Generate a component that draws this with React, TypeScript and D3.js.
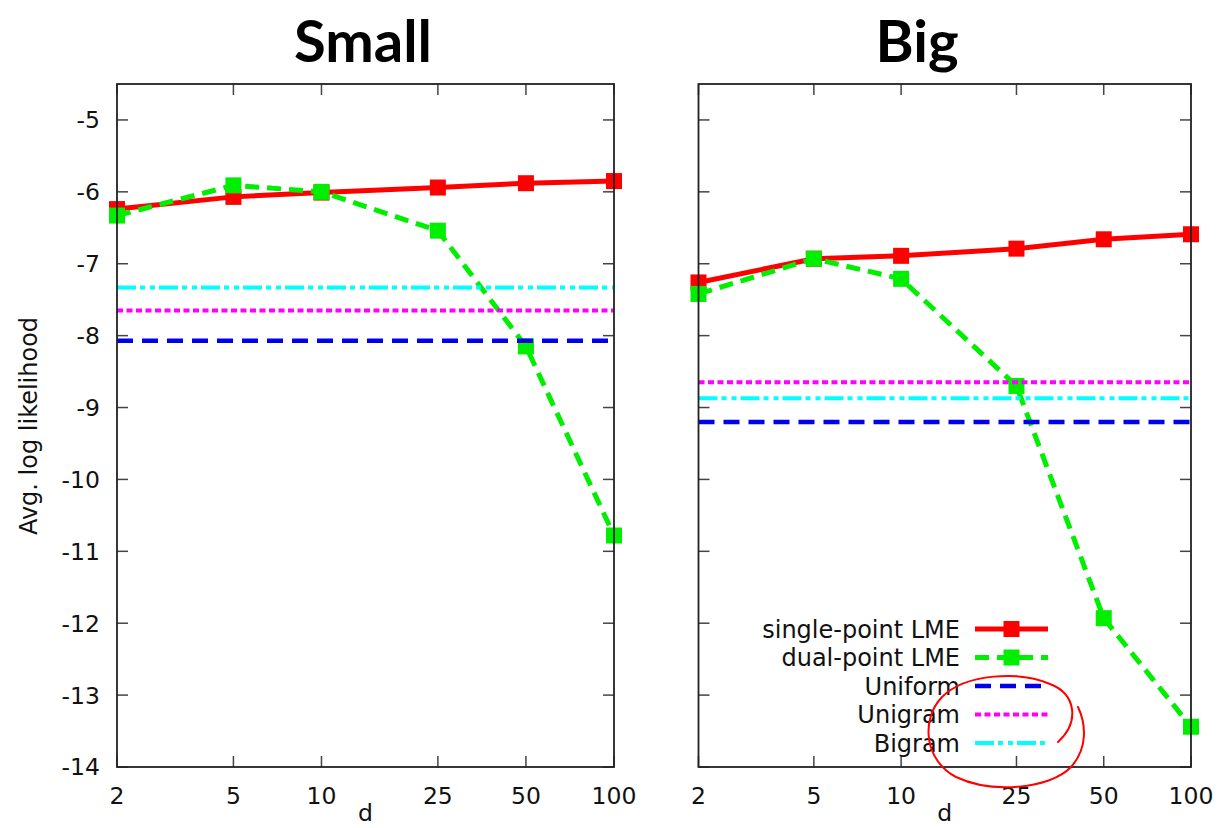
import React from 'react';
import * as d3 from 'd3';

// x values (d) and tick labels
const dValues = [2, 5, 10, 25, 50, 100];
const yTicks = [-14, -13, -12, -11, -10, -9, -8, -7, -6, -5];

// Small corpus
const smallSingle = [-6.24, -6.07, -6.01, -5.94, -5.88, -5.85];
const smallDual = [-6.33, -5.91, -6.0, -6.54, -8.15, -10.78];
const smallUniform = -8.07;
const smallUnigram = -7.65;
const smallBigram = -7.33;

// Big corpus
const bigSingle = [-7.26, -6.93, -6.89, -6.79, -6.66, -6.59];
const bigDual = [-7.42, -6.93, -7.21, -8.7, -11.93, -13.44];
const bigUniform = -9.2;
const bigUnigram = -8.65;
const bigBigram = -8.87;

const seriesNames = ['single-point LME', 'dual-point LME', 'Uniform', 'Unigram', 'Bigram'];

const styles = {
  single: { color: '#ff0000', width: 5, dash: null },
  dual: { color: '#00ee00', width: 5, dash: '14,8' },
  uniform: { color: '#0000ee', width: 4.5, dash: '16,9' },
  unigram: { color: '#ff00ff', width: 4, dash: '6,3.5' },
  bigram: { color: '#00ffff', width: 4, dash: '19,4,5,5,5,4' },
};

const FONT = '"DejaVu Sans", sans-serif';
const FS = 23.5;

const top = 84;
const bottom = 767;

function Panel({ x0, x1, title, titleX, single, dual, uniform, unigram, bigram, showYLabels, showLegend }) {
  const x = d3.scaleLog().domain([2, 100]).range([x0, x1]);
  const y = d3.scaleLinear().domain([-14, -4.5]).range([bottom, top]);
  const line = d3.line<number>().x((d, i) => x(dValues[i])).y((d) => y(d));
  const tickLen = 11;
  const sq = 16;

  const hline = (v, s) => (
    <line x1={x0} x2={x1} y1={y(v)} y2={y(v)} stroke={s.color} strokeWidth={s.width}
      strokeDasharray={s.dash || undefined} />
  );

  const legendRows = [styles.single, styles.dual, styles.uniform, styles.unigram, styles.bigram];

  return (
    <g>
      <text x={titleX} y={62} textAnchor="middle" fontFamily="Lato, sans-serif"
        fontWeight={700} fontSize={58}>{title}</text>

      {/* ticks */}
      {yTicks.map((t) => (
        <g key={'y' + t}>
          <line x1={x0} x2={x0 + tickLen} y1={y(t)} y2={y(t)} stroke="#444" strokeWidth={1.5} />
          <line x1={x1 - tickLen} x2={x1} y1={y(t)} y2={y(t)} stroke="#444" strokeWidth={1.5} />
          {showYLabels && (
            <text x={x0 - 17} y={y(t)} dy="0.36em" textAnchor="end" fontFamily={FONT} fontSize={FS}
              fill="#111">{t}</text>
          )}
        </g>
      ))}
      {dValues.map((d) => (
        <g key={'x' + d}>
          <line x1={x(d)} x2={x(d)} y1={bottom} y2={bottom - tickLen} stroke="#444" strokeWidth={1.5} />
          <line x1={x(d)} x2={x(d)} y1={top} y2={top + tickLen} stroke="#444" strokeWidth={1.5} />
          <text x={x(d)} y={796} dy="0.36em" textAnchor="middle" fontFamily={FONT} fontSize={FS}
            fill="#111">{d}</text>
        </g>
      ))}
      <text x={(x0 + x1) / 2} y={821} textAnchor="middle" fontFamily={FONT} fontSize={FS}
        fill="#111">d</text>

      {/* series */}
      <path d={line(single)} fill="none" stroke={styles.single.color} strokeWidth={styles.single.width} />
      {single.map((v, i) => (
        <rect key={'s' + i} x={x(dValues[i]) - sq / 2} y={y(v) - sq / 2} width={sq} height={sq}
          fill={styles.single.color} />
      ))}
      <path d={line(dual)} fill="none" stroke={styles.dual.color} strokeWidth={styles.dual.width}
        strokeDasharray={styles.dual.dash} />
      {dual.map((v, i) => (
        <rect key={'d' + i} x={x(dValues[i]) - sq / 2} y={y(v) - sq / 2} width={sq} height={sq}
          fill={styles.dual.color} />
      ))}
      {hline(uniform, styles.uniform)}
      {hline(unigram, styles.unigram)}
      {hline(bigram, styles.bigram)}

      {showLegend && legendRows.map((s, i) => {
        const ly = 629 + i * 28.5;
        return (
          <g key={'lg' + i}>
            <text x={960} y={ly} dy="0.36em" textAnchor="end" fontFamily={FONT} fontSize={24}
              fill="#111">{seriesNames[i]}</text>
            <line x1={975} x2={1048} y1={ly} y2={ly} stroke={s.color} strokeWidth={s.width}
              strokeDasharray={s.dash || undefined} />
            {i < 2 && (
              <rect x={1011.5 - sq / 2} y={ly - sq / 2} width={sq} height={sq} fill={s.color} />
            )}
          </g>
        );
      })}

      {/* frame */}
      <rect x={x0} y={top} width={x1 - x0} height={bottom - top} fill="none" stroke="#222"
        strokeWidth={1.8} />
    </g>
  );
}

export default function App() {
  return (
    <svg width={1221} height={828} style={{ position: 'absolute', left: 0, top: 0, background: '#fff' }}>
      <rect width={1221} height={828} fill="#fff" />
      <text transform="translate(37,426) rotate(-90)" textAnchor="middle" fontFamily={FONT}
        fontSize={24} fill="#111">Avg. log likelihood</text>
      <Panel x0={117} x1={614} title="Small" titleX={363} single={smallSingle} dual={smallDual}
        uniform={smallUniform} unigram={smallUnigram} bigram={smallBigram} showYLabels showLegend={false} />
      <Panel x0={698.5} x1={1191} title="Big" titleX={917} single={bigSingle} dual={bigDual}
        uniform={bigUniform} unigram={bigUnigram} bigram={bigBigram} showYLabels={false} showLegend />
      {/* hand-drawn annotation */}
      <path d="M1058,742 C1080,722 1076,694 1050,684 C1020,671 966,673 942,697 C920,720 925,761 956,777 C992,794 1050,789 1071,767 C1088,748 1086,724 1078,707"
        fill="none" stroke="#ff0000" strokeWidth={2} strokeLinecap="round" />
    </svg>
  );
}
